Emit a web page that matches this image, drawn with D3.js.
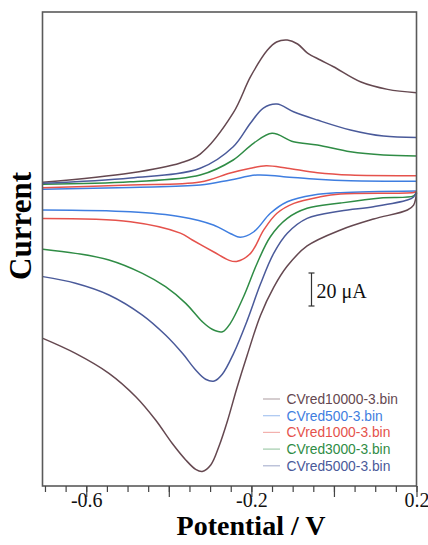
<!DOCTYPE html>
<html>
<head>
<meta charset="utf-8">
<script src="https://cdn.jsdelivr.net/npm/d3@7"></script>
<style>
  body { margin: 0; background: #fff; }
  svg { display: block; }
</style>
</head>
<body>
<script>
'use strict'

// potential (V) / current (uA), each CV split in two branches
var names  = ['CVred10000-3.bin', 'CVred500-3.bin', 'CVred1000-3.bin', 'CVred3000-3.bin', 'CVred5000-3.bin']
var colors = ['#654850', '#3f7ee0', '#e5524c', '#2f8c45', '#4a5a9a']

var red10000Low = [[-0.705, -89.9], [-0.626, -99.0], [-0.545, -111.1], [-0.480, -125.3], [-0.432, -139.4],
  [-0.392, -153.5], [-0.359, -163.6], [-0.335, -169.3], [-0.319, -170.6], [-0.298, -166.5], [-0.278, -155.0],
  [-0.258, -140.0], [-0.235, -120.0], [-0.210, -100.0], [-0.178, -76.0], [-0.146, -59.0], [-0.113, -46.1],
  [-0.065, -33.9], [0.016, -24.2], [0.096, -17.6], [0.178, -12.1], [0.193, -9.1], [0.200, -1.8]]
var red10000Up = [[-0.705, 4.7], [-0.493, 10.3], [-0.372, 16.4], [-0.324, 21.8], [-0.244, 46.7], [-0.202, 68.7],
  [-0.161, 84.8], [-0.139, 89.7], [-0.113, 90.9], [-0.088, 88.5], [-0.064, 83.0], [-0.033, 78.8], [-0.001, 74.7],
  [0.064, 65.6], [0.130, 61.0], [0.200, 59.0]]

var red500Low = [[-0.705, -12.1], [-0.493, -13.2], [-0.372, -16.2], [-0.292, -21.2], [-0.250, -26.5],
  [-0.227, -28.7], [-0.194, -25.3], [-0.154, -14.1], [-0.113, -7.1], [-0.049, -3.0], [0.016, -1.6], [0.200, -0.6]]
var red500Up = [[-0.705, 0.4], [-0.493, 1.6], [-0.324, 3.0], [-0.251, 6.1], [-0.186, 9.1], [-0.122, 8.1],
  [-0.040, 6.5], [0.040, 5.6], [0.200, 5.3]]

var red1000Low = [[-0.705, -17.2], [-0.493, -19.2], [-0.372, -26.1], [-0.343, -30.3], [-0.292, -37.4],
  [-0.255, -42.5], [-0.236, -43.3], [-0.202, -38.4], [-0.170, -24.2], [-0.138, -14.1], [-0.097, -8.1],
  [-0.033, -4.1], [0.016, -2.4], [0.193, -1.5], [0.200, -0.9]]
var red1000Up = [[-0.705, 1.4], [-0.493, 3.0], [-0.324, 4.8], [-0.251, 10.3], [-0.202, 13.2], [-0.164, 14.7],
  [-0.113, 13.2], [-0.040, 10.5], [0.040, 9.1], [0.200, 8.7]]

var red3000Low = [[-0.705, -35.9], [-0.626, -38.4], [-0.545, -42.4], [-0.464, -50.5], [-0.408, -58.6],
  [-0.359, -68.7], [-0.319, -79.8], [-0.295, -84.4], [-0.270, -85.9], [-0.251, -80.8], [-0.219, -64.7],
  [-0.186, -44.4], [-0.154, -28.3], [-0.113, -17.2], [-0.065, -11.1], [0.016, -7.9], [0.113, -4.8],
  [0.193, -3.6], [0.200, -1.2]]
var red3000Up = [[-0.705, 3.5], [-0.493, 5.0], [-0.324, 9.1], [-0.244, 18.2], [-0.195, 28.3], [-0.150, 34.4],
  [-0.098, 29.3], [-0.040, 27.3], [0.040, 23.2], [0.120, 21.2], [0.200, 20.6]]

var red5000Low = [[-0.705, -52.5], [-0.626, -56.5], [-0.545, -63.6], [-0.464, -75.8], [-0.408, -87.9],
  [-0.367, -99.0], [-0.335, -109.1], [-0.311, -114.7], [-0.290, -115.8], [-0.270, -111.5], [-0.243, -99.0],
  [-0.210, -79.0], [-0.178, -57.0], [-0.146, -38.4], [-0.113, -26.2], [-0.065, -17.2], [0.016, -12.7],
  [0.096, -10.1], [0.178, -6.1], [0.193, -4.2], [0.200, -1.2]]
var red5000Up = [[-0.705, 4.1], [-0.493, 7.3], [-0.324, 13.2], [-0.244, 26.2], [-0.202, 40.6], [-0.171, 49.7],
  [-0.138, 52.1], [-0.098, 47.4], [-0.040, 42.4], [0.040, 36.4], [0.120, 32.7], [0.200, 31.9]]

var branches = [
  [red10000Low, red10000Up],
  [red500Low, red500Up],
  [red1000Low, red1000Up],
  [red3000Low, red3000Up],
  [red5000Low, red5000Up]
]

var minorTicks = d3.range(-0.7, 0.2001, 0.05)
var majorTicks = [-0.6, -0.4, -0.2, 0, 0.2]
var labelTicks = [-0.6, -0.2, 0.2]

var width = 428, height = 545
var plot = { left: 42.5, right: 416.5, top: 12, bottom: 486 }

var svg = d3.select('body').append('svg')
  .attr('width', width)
  .attr('height', height)

var x = d3.scaleLinear().domain([-0.706, 0.2]).range([plot.left, plot.right])
var y = d3.scaleLinear().domain([-179.4, 107.9]).range([plot.bottom, plot.top])

var line = d3.line()
  .x(function (d) { return x(d[0]) })
  .y(function (d) { return y(d[1]) })
  .curve(d3.curveCatmullRom.alpha(0.5))

var curves = svg.append('g')
branches.forEach(function (pair, i) {
  pair.forEach(function (b) {
    curves.append('path')
      .attr('d', line(b))
      .attr('fill', 'none')
      .attr('stroke', colors[i])
      .attr('stroke-width', 1.5)
  })
})

// frame
svg.append('rect')
  .attr('x', plot.left).attr('y', plot.top)
  .attr('width', plot.right - plot.left).attr('height', plot.bottom - plot.top)
  .attr('fill', 'none')
  .attr('stroke', '#5a5a5a')
  .attr('stroke-width', 1.6)

// x axis: minor + major ticks
var minorAxis = svg.append('g')
  .attr('transform', 'translate(0,' + plot.bottom + ')')
  .call(d3.axisBottom(x).tickValues(minorTicks).tickSize(6).tickFormat(''))
var majorAxis = svg.append('g')
  .attr('transform', 'translate(0,' + plot.bottom + ')')
  .call(d3.axisBottom(x).tickValues(majorTicks).tickSize(11)
    .tickFormat(function (d) {
      return labelTicks.some(function (t) { return Math.abs(t - d) < 1e-9 }) ? d.toFixed(1) : ''
    }))
;[minorAxis, majorAxis].forEach(function (a) {
  a.select('.domain').remove()
  a.selectAll('line').attr('stroke', '#444').attr('stroke-width', 1.2)
})
majorAxis.selectAll('text')
  .attr('y', 21).attr('dy', 0)
  .attr('fill', '#111')
  .style('font-family', '"Liberation Serif", "Times New Roman", serif')
  .style('font-size', '20px')

svg.append('text')
  .attr('x', 251).attr('y', 535)
  .attr('text-anchor', 'middle')
  .style('font-family', '"Liberation Serif", "Times New Roman", serif')
  .style('font-size', '28px')
  .style('font-weight', 'bold')
  .text('Potential / V')

svg.append('text')
  .attr('transform', 'translate(31,226) rotate(-90)')
  .attr('text-anchor', 'middle')
  .style('font-family', '"Liberation Serif", "Times New Roman", serif')
  .style('font-size', '31px')
  .style('font-weight', 'bold')
  .text('Current')

// 20 uA scale bar
var barX = 311.5, barTop = 273, barBot = barTop + (y(0) - y(20))
var bar = svg.append('g').attr('stroke', '#333').attr('stroke-width', 1.2)
bar.append('line').attr('x1', barX).attr('x2', barX).attr('y1', barTop).attr('y2', barBot)
bar.append('line').attr('x1', barX - 3).attr('x2', barX + 3).attr('y1', barTop).attr('y2', barTop)
bar.append('line').attr('x1', barX - 3).attr('x2', barX + 3).attr('y1', barBot).attr('y2', barBot)
svg.append('text')
  .attr('x', 316.5).attr('y', 298)
  .style('font-family', '"Liberation Serif", "Times New Roman", serif')
  .style('font-size', '20px')
  .attr('fill', '#111')
  .text('20 μA')

// legend
var legend = svg.append('g').attr('transform', 'translate(263,399)')
names.forEach(function (n, i) {
  var row = legend.append('g').attr('transform', 'translate(0,' + (i * 16.7) + ')')
  row.append('line')
    .attr('x1', 0).attr('x2', 17)
    .attr('stroke', colors[i])
    .attr('stroke-opacity', 0.45)
    .attr('stroke-width', 1.2)
  row.append('text')
    .attr('x', 23.5).attr('dy', '0.36em')
    .attr('fill', colors[i])
    .style('font-family', '"Liberation Sans", Helvetica, Arial, sans-serif')
    .style('font-size', '13.8px')
    .text(n)
})
</script>
</body>
</html>
